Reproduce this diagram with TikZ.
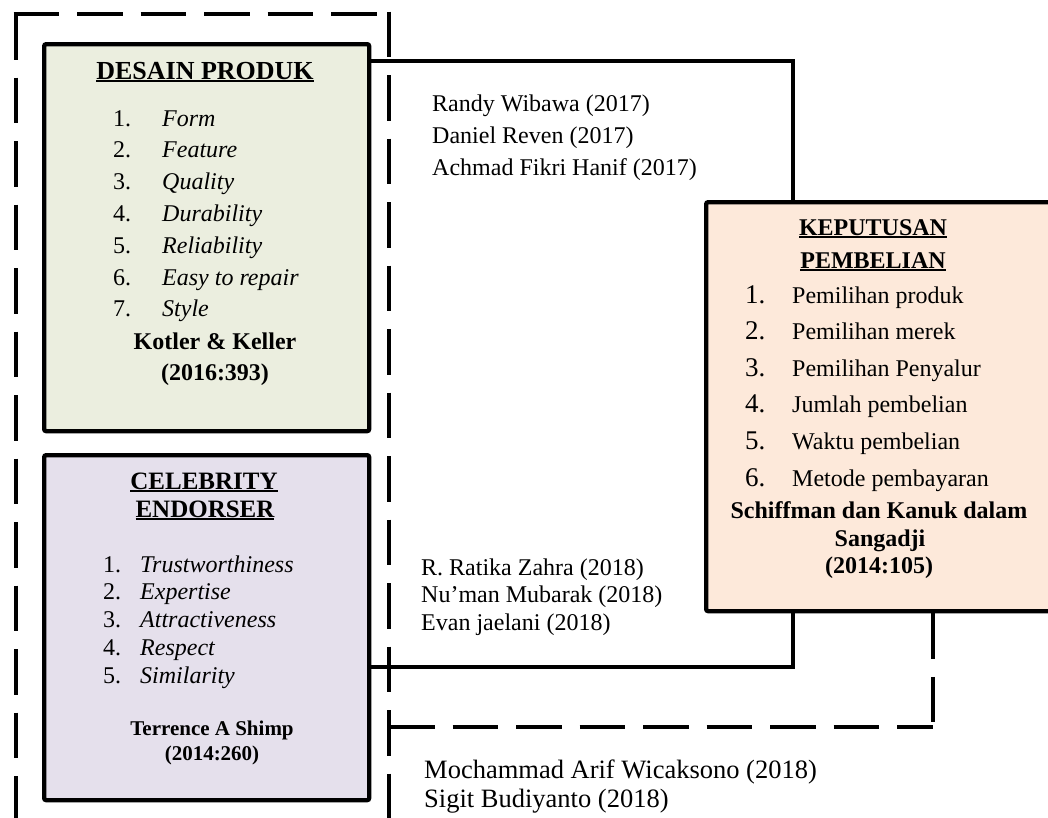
\documentclass[tikz,border=0pt]{standalone}
\usepackage{fontspec}
\setmainfont{Liberation Serif}
\definecolor{dpfill}{RGB}{235,238,223}
\definecolor{cefill}{RGB}{229,224,236}
\definecolor{kpfill}{RGB}{253,233,218}
\newcommand\myul[1]{\setbox0=\hbox{#1}\rlap{\rule[-3.2pt]{\wd0}{1.8pt}}\box0}
\begin{document}
\begin{tikzpicture}[x=1pt,y=-1pt,
  box/.style={draw=black, line width=4.3pt, rounded corners=2pt, inner sep=0pt, anchor=north west},
  conn/.style={line width=4.5pt},
  dsh/.style={line width=4.6pt, dash pattern=on 45.5pt off 18pt},
  tl/.style={inner sep=0pt, anchor=base west, font=\fontsize{24}{28}\selectfont},
  til/.style={inner sep=0pt, anchor=base west, font=\fontsize{24}{28}\selectfont\itshape},
  tbc/.style={inner sep=0pt, anchor=base, font=\fontsize{24}{28}\selectfont\bfseries},
  ttl/.style={inner sep=0pt, anchor=base, font=\fontsize{26}{28}\selectfont\bfseries},
  big/.style={inner sep=0pt, anchor=base west, font=\fontsize{27}{30}\selectfont},
  ref/.style={inner sep=0pt, anchor=base west, font=\fontsize{24}{28}\selectfont},
  refbig/.style={inner sep=0pt, anchor=base west, font=\fontsize{26.5}{30}\selectfont}
]
\fill[white] (0,0) rectangle (1048,817);
\useasboundingbox (0,0) rectangle (1048,817);
\clip (0,0) rectangle (1048,817);

% outer dashed frame
\coordinate (oTL) at (16,14);
\coordinate (oTR) at (389,14);
\coordinate (oBL) at (16,840);
\coordinate (oBR) at (389,840);
\draw[dsh] (oTL) -- (oBL);
\draw[dsh] (oTL) ++(-2.3,0) coordinate (oTL2) (oTL2) -- (oTR);
\draw[dsh] (oTR) ++(0,-2.3) coordinate (oTR2) (oTR2) -- (oBR);

% boxes
\node[box, fill=dpfill, minimum width=325pt, minimum height=387pt] (dp) at (42,42) {};
\node[box, fill=cefill, minimum width=325pt, minimum height=345pt] (ce) at (42,453) {};
\node[box, fill=kpfill, minimum width=400pt, minimum height=409pt] (kp) at (704,200) {};

% connectors
\coordinate (t1) at (793,61);
\coordinate (b1) at (793,667);
\coordinate (d0) at (389,727);
\coordinate (d1) at (933,727);
\draw[conn] (dp.east |- t1) -- (t1) -- (t1 |- kp.north);
\draw[conn] (ce.east |- b1) -- (b1) -- (b1 |- kp.south);
\draw[dsh] (d0) -- (d1);
\draw[dsh] (d1 |- kp.south) -- (d1);

% DESAIN PRODUK
\node[ttl] (dpt) at (205,79) {\myul{DESAIN PRODUK}};
\foreach \k/\t in {1/Form,2/Feature,3/Quality,4/Durability,5/Reliability,6/Easy to repair,7/Style}{
  \node[tl] (dpn\k) at (113,{126+31.8*(\k-1)}) {\k.};
  \node[til] (dpi\k) at (162,{126+31.8*(\k-1)}) {\t};
}
\node[tbc] (dpr1) at (215,349) {Kotler \& Keller};
\node[tbc] (dpr2) at (215,380) {(2016:393)};

% CELEBRITY ENDORSER
\node[ttl, font=\fontsize{25}{27}\selectfont\bfseries] (cet1) at (204,489) {\myul{CELEBRITY}};
\node[ttl, font=\fontsize{25}{27}\selectfont\bfseries] (cet2) at (205,517) {\myul{ENDORSER}};
\foreach \k/\t in {1/Trustworthiness,2/Expertise,3/Attractiveness,4/Respect,5/Similarity}{
  \node[tl] (cen\k) at (103,{572+27.75*(\k-1)}) {\k.};
  \node[til] (cei\k) at (140,{572+27.75*(\k-1)}) {\t};
}
\node[tbc, font=\fontsize{21}{24}\selectfont\bfseries] (cer1) at (212,735) {Terrence A Shimp};
\node[tbc, font=\fontsize{21}{24}\selectfont\bfseries] (cer2) at (212,760) {(2014:260)};

% KEPUTUSAN PEMBELIAN
\node[tbc] (kpt1) at (873,235) {\myul{KEPUTUSAN}};
\node[tbc] (kpt2) at (873,268) {\myul{PEMBELIAN}};
\foreach \k/\t in {1/Pemilihan produk,2/Pemilihan merek,3/Pemilihan Penyalur,4/Jumlah pembelian,5/Waktu pembelian,6/Metode pembayaran}{
  \node[big] (kpn\k) at (745,{303+36.6*(\k-1)}) {\k.};
  \node[tl] (kpi\k) at (792,{303+36.6*(\k-1)}) {\t};
}
\node[tbc] (kpr1) at (879,518) {Schiffman dan Kanuk dalam};
\node[tbc] (kpr2) at (880,546) {Sangadji};
\node[tbc] (kpr3) at (879,573) {(2014:105)};

% references
\node[ref] (r1) at (432,111) {Randy Wibawa (2017)};
\node[ref] (r2) at (432,143) {Daniel Reven (2017)};
\node[ref] (r3) at (432,175) {Achmad Fikri Hanif (2017)};
\node[ref] (s1) at (421,575) {R. Ratika Zahra (2018)};
\node[ref] (s2) at (421,602) {Nu’man Mubarak (2018)};
\node[ref] (s3) at (421,630) {Evan jaelani (2018)};
\node[refbig] (m1) at (424,778) {Mochammad Arif Wicaksono (2018)};
\node[refbig] (m2) at (424,807) {Sigit Budiyanto (2018)};
\end{tikzpicture}
\end{document}
